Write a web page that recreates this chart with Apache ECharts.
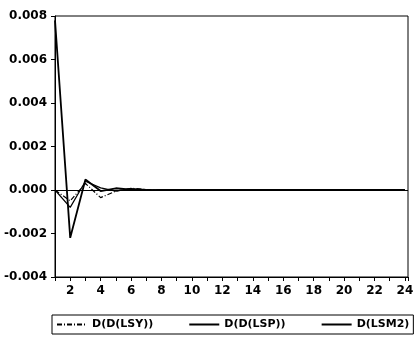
<!DOCTYPE html>
<html>
<head>
<meta charset="utf-8">
<script src="https://cdn.jsdelivr.net/npm/echarts@6/dist/echarts.min.js"></script>
<style>
html,body{margin:0;padding:0;background:#fff;}
#main{width:417px;height:341px;}
</style>
</head>
<body>
<div id="main"></div>
<script>
//期数
var periods = [1,2,3,4,5,6,7,8,9,10,11,12,13,14,15,16,17,18,19,20,21,22,23,24];
//各冲击的响应
var lsy = [0,-0.0005,0.0003,-0.00035,-0.00005,0.00008,0.00002,0,0,0,0,0,0,0,0,0,0,0,0,0,0,0,0,0];
var lsp = [0,-0.0008,0.0004,0.0001,-0.00005,0.00006,0.00002,0,0,0,0,0,0,0,0,0,0,0,0,0,0,0,0,0];
var lsm2 = [0.0078,-0.0022,0.00048,-0.00005,0.00008,0.00002,-0.00001,0,0,0,0,0,0,0,0,0,0,0,0,0,0,0,0,0];
var names = ['D(D(LSY))','D(D(LSP))','D(LSM2)'];
var yTicks = [-0.004,0.008,0.002];

function pairs(arr){
    var out = [];
    for(var i=0;i<periods.length;i++){
        out.push([periods[i], arr[i]]);
    }
    return out;
}

var font = {fontFamily:'DejaVu Sans', fontWeight:'bold', fontSize:12, color:'#000'};
var myChart = echarts.init(document.getElementById('main'));
var option = {
    animation:false,
    backgroundColor:'#fff',
    grid:{left:55,right:9,top:16,bottom:64,show:true,borderColor:'#000',borderWidth:1},
    legend:{
        left:52, top:315,
        data:names,
        itemWidth:30, itemHeight:10, itemGap:35,
        borderColor:'#000', borderWidth:1, padding:[4,4,4,4],
        itemStyle:{opacity:0, borderWidth:0},
        textStyle:{fontFamily:'DejaVu Sans', fontWeight:'bold', fontSize:11, color:'#000'}
    },
    xAxis:{
        type:'value', min:1, max:24.2, interval:1,
        axisLine:{onZero:false,lineStyle:{color:'#000'}},
        axisTick:{inside:false,length:4,lineStyle:{color:'#000'}},
        axisLabel:Object.assign({margin:8, formatter:function(v){return v%2==0 ? String(v) : '';}}, font),
        splitLine:{show:false}
    },
    yAxis:{
        type:'value', min:yTicks[0], max:yTicks[1], interval:yTicks[2],
        axisLine:{show:true,lineStyle:{color:'#000'}},
        axisTick:{show:true,length:4,lineStyle:{color:'#000'}},
        axisLabel:Object.assign({margin:8, formatter:function(v){return v.toFixed(3);}}, font),
        splitLine:{show:false}
    },
    series:[
        {name:names[0], type:'line', data:pairs(lsy), symbol:'none', color:'#000',
         lineStyle:{color:'#000',width:1.2,type:[5,2,1,2]},
         markLine:{silent:true,symbol:'none',label:{show:false},lineStyle:{color:'#000',width:1,type:'solid'},data:[{yAxis:0}]}},
        {name:names[1], type:'line', data:pairs(lsp), symbol:'none', color:'#000',
         lineStyle:{color:'#000',width:1.2}},
        {name:names[2], type:'line', data:pairs(lsm2), symbol:'none', color:'#000',
         lineStyle:{color:'#000',width:1.8}}
    ]
};
myChart.setOption(option);
</script>
</body>
</html>
